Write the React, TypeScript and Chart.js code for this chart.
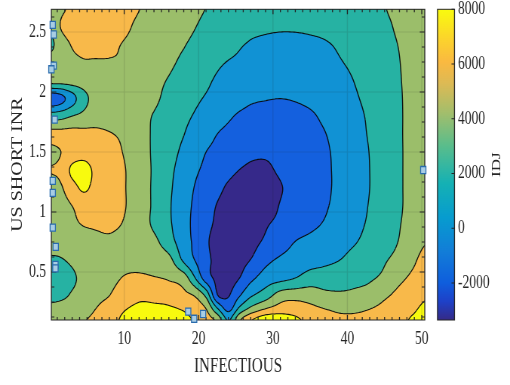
import React, { useEffect, useRef } from 'react';
import { Chart, registerables } from 'chart.js';

Chart.register(...registerables);

// page is 510 px wide; the chart is drawn on a wider canvas and squeezed horizontally
const CANVAS_W = 676;
const CANVAS_H = 385;
const SX = 510 / CANVAS_W;

// grid of the IDJ surface (x = INFECTIOUS, y = US SHORT INR)
const xValues = [0.2, 1.5, 3, 4.5, 6, 8, 10, 12, 14, 16, 18, 19.5, 21, 22.5, 24, 25.5, 27, 29, 31, 33, 35, 37, 39, 41, 43, 45, 47, 49, 50.4];
const yValues = [0.1, 0.2, 0.3, 0.45, 0.6, 0.75, 0.9, 1.05, 1.2, 1.35, 1.5, 1.65, 1.8, 1.95, 2.1, 2.25, 2.4, 2.55, 2.7];

const idjAtY010 = [4800, 4800, 4900, 5800, 6400, 7200, 8400, 9000, 9100, 9000, 8700, 7800, 6800, 5500, 1800, 5700, 7800, 9300, 9200, 8400, 7400, 7000, 6500, 6500, 6800, 7300, 7600, 8300, 9000];
const idjAtY020 = [4300, 4500, 4700, 5100, 5900, 6700, 7800, 8300, 8300, 8200, 7700, 6700, 5900, 2000, -800, 2300, 4300, 5800, 6700, 6800, 6400, 5900, 5500, 5500, 5900, 6500, 7000, 7700, 8400];
const idjAtY030 = [3600, 3700, 4200, 4800, 5500, 6000, 7000, 7600, 7500, 7200, 6500, 5900, 3600, -1800, -2100, -100, 1800, 3100, 5000, 5300, 5100, 4500, 4300, 4400, 4700, 5700, 6500, 7000, 7700];
const idjAtY045 = [3000, 3200, 3700, 4500, 5200, 5500, 6100, 6250, 6100, 5800, 5000, 2100, -1000, -2400, -2700, -2000, -500, 900, 1400, 2000, 2900, 3000, 3200, 3500, 3800, 4400, 5600, 6400, 7000];
const idjAtY060 = [3800, 3900, 4300, 5000, 5200, 5300, 5600, 5600, 5200, 4600, 1660, -30, -1470, -2500, -2800, -2500, -1950, -500, 280, 710, 1140, 1575, 2000, 2620, 3230, 3850, 4600, 5800, 6400];
const idjAtY075 = [4500, 4600, 4800, 5200, 5600, 5800, 5600, 5300, 4500, 2840, 940, -390, -1730, -2600, -3100, -3100, -2600, -1680, -820, 40, 490, 960, 1430, 1900, 2590, 3350, 4100, 5300, 5900];
const idjAtY090 = [4800, 5000, 5600, 6100, 6200, 6200, 5900, 5000, 3660, 2300, 720, -445, -1500, -2300, -2900, -3300, -3200, -2200, -1590, -1010, -430, 170, 850, 1525, 2250, 3080, 3920, 4800, 5300];
const idjAtY105 = [5000, 5300, 6000, 6800, 6800, 6500, 6100, 5000, 3700, 2220, 740, -300, -1210, -2100, -2700, -3200, -3300, -2800, -1900, -1330, -750, -170, 540, 1320, 2100, 2950, 3790, 4700, 5100];
const idjAtY120 = [5200, 5800, 7200, 8300, 7500, 6800, 6100, 5000, 3700, 2330, 930, -80, -800, -1520, -2300, -2900, -3200, -2800, -2100, -1480, -880, -290, 410, 1210, 2000, 2890, 3780, 4700, 5100];
const idjAtY135 = [6100, 6500, 8400, 8800, 7700, 6900, 6100, 5000, 3750, 2470, 1220, 300, -370, -920, -1470, -2020, -2300, -2250, -1770, -1270, -760, -260, 390, 1190, 2000, 2890, 3780, 4700, 5100];
const idjAtY150 = [5400, 6000, 6800, 7200, 6900, 6600, 5900, 5000, 3700, 2720, 1620, 810, 0, -450, -900, -1350, -1700, -1800, -1600, -1200, -750, -250, 510, 1280, 2040, 2900, 3780, 4700, 5100];
const idjAtY165 = [6600, 6600, 6700, 6600, 6400, 6100, 5700, 5000, 3700, 2950, 2050, 1360, 680, 0, -400, -750, -1050, -1200, -1150, -900, -550, -50, 740, 1440, 2150, 2950, 3800, 4700, 5100];
const idjAtY180 = [3000, 3300, 4000, 4500, 5200, 5300, 5100, 4500, 3900, 3160, 2410, 1860, 1320, 790, 250, -220, -500, -680, -700, -550, -250, 360, 970, 1580, 2240, 3020, 3800, 4700, 5100];
const idjAtY195 = [-1200, -600, 1200, 3300, 4600, 5200, 5100, 4700, 4300, 3520, 2830, 2310, 1880, 1600, 1100, 650, 250, 100, 20, 140, 430, 900, 1370, 1830, 2450, 3140, 3830, 4700, 5100];
const idjAtY210 = [5000, 5000, 5100, 5100, 5300, 5300, 5100, 4800, 4400, 3900, 3220, 2740, 2260, 1800, 1230, 950, 700, 580, 560, 650, 750, 1100, 1550, 2060, 2680, 3290, 3900, 4700, 5100];
const idjAtY225 = [4800, 5300, 5700, 5900, 5900, 5900, 5800, 5200, 4700, 4300, 3690, 3230, 2770, 2310, 1930, 1710, 1500, 1200, 1080, 1290, 1500, 1715, 1925, 2350, 2890, 3430, 3970, 4700, 5100];
const idjAtY240 = [3600, 5300, 6100, 6300, 6400, 6300, 5900, 5400, 5000, 4600, 4100, 3710, 3320, 2920, 2530, 2130, 1900, 1750, 1650, 1650, 1750, 1900, 2190, 2660, 3130, 3600, 4070, 4700, 5100];
const idjAtY255 = [4600, 6100, 6600, 6900, 7000, 6900, 6400, 5600, 5100, 4800, 4400, 4050, 3700, 3350, 2850, 2550, 2300, 2200, 2150, 2170, 2250, 2400, 2700, 3150, 3450, 3750, 4250, 4800, 5150];
const idjAtY270 = [4700, 5700, 6300, 6900, 7200, 7200, 6800, 6050, 5400, 5000, 4600, 4250, 3980, 3650, 3300, 3000, 2750, 2600, 2500, 2500, 2600, 2750, 3000, 3250, 3550, 3950, 4400, 4900, 5200];

const zRows = [
  idjAtY010, idjAtY020, idjAtY030, idjAtY045, idjAtY060, idjAtY075, idjAtY090, idjAtY105, idjAtY120, idjAtY135,
  idjAtY150, idjAtY165, idjAtY180, idjAtY195, idjAtY210, idjAtY225, idjAtY240, idjAtY255, idjAtY270,
];

const contourLevels = [-2000, 0, 2000, 4000, 6000, 8000];
const bandColors = ['#36298a', '#1460de', '#1192d4', '#26b2a3', '#9bbe6a', '#f8b94a', '#f8fa0e'];

// sampled points
const pointsX = [0.39, 0.52, 0.52, 0.21, 0.66, 0.39, 0.39, 0.39, 0.79, 0.75, 0.75, 18.6, 19.4, 20.6, 50.2];
const pointsY = [2.56, 2.48, 2.22, 2.19, 1.77, 1.26, 1.16, 0.87, 0.71, 0.56, 0.53, 0.17, 0.11, 0.15, 1.35];

const xTicks = [10, 20, 30, 40, 50];
const yTicks = [0.5, 1, 1.5, 2, 2.5];
const colorbarTicks = [-2000, 0, 2000, 4000, 6000, 8000];
const colorbarMin = -3350;
const colorbarMax = 8000;

const parulaStops: [number, string][] = [
  [0.0, '#352a87'], [0.06, '#1e41c8'], [0.12, '#0f5edd'], [0.22, '#127dd8'], [0.33, '#079ccf'],
  [0.44, '#15b1b4'], [0.56, '#59bd8c'], [0.67, '#a5be6b'], [0.76, '#dcba55'], [0.83, '#fab941'],
  [0.9, '#fcd22d'], [1.0, '#f9fb0e'],
];

const TEXT = '#262626';
const FONT = "'Liberation Serif', 'Times New Roman', Times, serif";
const PLOT_TOP = 9.3;

function fracIndex(arr: number[], v: number) {
  const n = arr.length;
  if (v <= arr[0]) return 0;
  if (v >= arr[n - 1]) return n - 1;
  let i = 0;
  while (i < n - 2 && arr[i + 1] < v) i++;
  return i + (v - arr[i]) / (arr[i + 1] - arr[i]);
}

function zAt(r: number, c: number) {
  const rr = Math.max(0, Math.min(zRows.length - 1, r));
  const cc = Math.max(0, Math.min(xValues.length - 1, c));
  return zRows[rr][cc];
}

function cr(p0: number, p1: number, p2: number, p3: number, t: number) {
  return 0.5 * (2 * p1 + (-p0 + p2) * t + (2 * p0 - 5 * p1 + 4 * p2 - p3) * t * t + (-p0 + 3 * p1 - 3 * p2 + p3) * t * t * t);
}

function sampleField(ri: number, ci: number) {
  const r = Math.min(Math.floor(ri), zRows.length - 2);
  const c = Math.min(Math.floor(ci), xValues.length - 2);
  const tr = ri - r;
  const tc = ci - c;
  const col: number[] = [];
  for (let k = -1; k <= 2; k++) {
    const rr = r + k;
    col.push(cr(zAt(rr, c - 1), zAt(rr, c), zAt(rr, c + 1), zAt(rr, c + 2), tc));
  }
  return cr(col[0], col[1], col[2], col[3], tr);
}

function hexToRgb(h: string) {
  const n = parseInt(h.slice(1), 16);
  return [(n >> 16) & 255, (n >> 8) & 255, n & 255];
}

const fieldPlugin = {
  id: 'fieldPlugin',
  beforeDatasetsDraw(chart: any) {
    const ctx = chart.ctx as CanvasRenderingContext2D;
    const a = chart.chartArea;
    const xS = chart.scales.x;
    const yS = chart.scales.y;
    const L = Math.round(a.left), T = Math.round(a.top), R = Math.round(a.right), B = Math.round(a.bottom);
    const w = R - L, h = B - T;

    // filled bands
    const img = ctx.createImageData(w, h);
    const ci = new Float64Array(w);
    const ri = new Float64Array(h);
    for (let i = 0; i < w; i++) ci[i] = fracIndex(xValues, xS.getValueForPixel(L + i + 0.5));
    for (let j = 0; j < h; j++) ri[j] = fracIndex(yValues, yS.getValueForPixel(T + j + 0.5));
    const rgb = bandColors.map(hexToRgb);
    for (let j = 0; j < h; j++) {
      for (let i = 0; i < w; i++) {
        const v = sampleField(ri[j], ci[i]);
        let b = 0;
        while (b < contourLevels.length && v >= contourLevels[b]) b++;
        const c = rgb[b];
        const k = (j * w + i) * 4;
        img.data[k] = c[0];
        img.data[k + 1] = c[1];
        img.data[k + 2] = c[2];
        img.data[k + 3] = 255;
      }
    }
    ctx.putImageData(img, L, T);

    ctx.save();
    ctx.beginPath();
    ctx.rect(a.left, a.top, a.right - a.left, a.bottom - a.top);
    ctx.clip();
    ctx.scale(1 / SX, 1);

    // grid
    ctx.strokeStyle = 'rgba(30,30,30,0.13)';
    ctx.lineWidth = 1;
    ctx.beginPath();
    for (const v of xTicks) {
      const px = xS.getPixelForValue(v) * SX;
      ctx.moveTo(px, a.top);
      ctx.lineTo(px, a.bottom);
    }
    for (const v of yTicks) {
      const py = yS.getPixelForValue(v);
      ctx.moveTo(a.left * SX, py);
      ctx.lineTo(a.right * SX, py);
    }
    ctx.stroke();

    // contour lines (marching squares)
    const step = 2;
    const gx: number[] = [];
    const gy: number[] = [];
    for (let p = L; p < R; p += step) gx.push(p);
    gx.push(R);
    for (let p = T; p < B; p += step) gy.push(p);
    gy.push(B);
    const nx = gx.length, ny = gy.length;
    const gci = gx.map((p) => fracIndex(xValues, xS.getValueForPixel(p)));
    const gri = gy.map((p) => fracIndex(yValues, yS.getValueForPixel(p)));
    const vals = new Float64Array(nx * ny);
    for (let j = 0; j < ny; j++) for (let i = 0; i < nx; i++) vals[j * nx + i] = sampleField(gri[j], gci[i]);

    ctx.strokeStyle = 'rgba(10,10,10,0.95)';
    ctx.lineWidth = 1.05;
    ctx.lineJoin = 'round';
    ctx.beginPath();
    for (const lvl of contourLevels) {
      for (let j = 0; j < ny - 1; j++) {
        for (let i = 0; i < nx - 1; i++) {
          const va = vals[j * nx + i];
          const vb = vals[j * nx + i + 1];
          const vc = vals[(j + 1) * nx + i + 1];
          const vd = vals[(j + 1) * nx + i];
          const x0 = gx[i], x1 = gx[i + 1], y0 = gy[j], y1 = gy[j + 1];
          const pts: [number, number][] = [];
          const cross = (p: number, q: number) => (p >= lvl) !== (q >= lvl);
          if (cross(va, vb)) pts.push([x0 + ((lvl - va) / (vb - va)) * (x1 - x0), y0]);
          if (cross(vb, vc)) pts.push([x1, y0 + ((lvl - vb) / (vc - vb)) * (y1 - y0)]);
          if (cross(vd, vc)) pts.push([x0 + ((lvl - vd) / (vc - vd)) * (x1 - x0), y1]);
          if (cross(va, vd)) pts.push([x0, y0 + ((lvl - va) / (vd - va)) * (y1 - y0)]);
          if (pts.length === 2) {
            ctx.moveTo(pts[0][0] * SX, pts[0][1]);
            ctx.lineTo(pts[1][0] * SX, pts[1][1]);
          } else if (pts.length === 4) {
            const center = (va + vb + vc + vd) / 4;
            if ((va >= lvl) === (center >= lvl)) {
              ctx.moveTo(pts[0][0] * SX, pts[0][1]); ctx.lineTo(pts[1][0] * SX, pts[1][1]);
              ctx.moveTo(pts[2][0] * SX, pts[2][1]); ctx.lineTo(pts[3][0] * SX, pts[3][1]);
            } else {
              ctx.moveTo(pts[0][0] * SX, pts[0][1]); ctx.lineTo(pts[3][0] * SX, pts[3][1]);
              ctx.moveTo(pts[1][0] * SX, pts[1][1]); ctx.lineTo(pts[2][0] * SX, pts[2][1]);
            }
          }
        }
      }
    }
    ctx.stroke();
    ctx.restore();

    // axes box and inward ticks
    ctx.save();
    ctx.scale(1 / SX, 1);
    ctx.strokeStyle = TEXT;
    ctx.lineWidth = 1;
    const lx = a.left * SX, rx = a.right * SX;
    ctx.strokeRect(lx, a.top, rx - lx, a.bottom - a.top);
    ctx.beginPath();
    for (let v = 1; v <= 50; v++) {
      const px = xS.getPixelForValue(v) * SX;
      const len = v % 10 === 0 ? 5 : 3;
      ctx.moveTo(px, a.bottom); ctx.lineTo(px, a.bottom - len);
      ctx.moveTo(px, a.top); ctx.lineTo(px, a.top + len);
    }
    for (let k = 1; k <= 21; k++) {
      const v = k * 0.125;
      if (v < yS.min || v > yS.max) continue;
      const py = yS.getPixelForValue(v);
      const len = k % 4 === 0 ? 5 : 3;
      ctx.moveTo(lx, py); ctx.lineTo(lx + len, py);
      ctx.moveTo(rx, py); ctx.lineTo(rx - len, py);
    }
    ctx.stroke();
    ctx.restore();
  },
  afterDraw(chart: any) {
    const ctx = chart.ctx as CanvasRenderingContext2D;
    const cb = chart.scales.y2;
    const a = chart.chartArea;
    const left = 437.5 / SX;
    const right = 454.5 / SX;
    const top = cb.getPixelForValue(colorbarMax);
    const bottom = cb.getPixelForValue(colorbarMin);
    const grad = ctx.createLinearGradient(0, bottom, 0, top);
    for (const [t, c] of parulaStops) grad.addColorStop(t, c);
    ctx.save();
    ctx.fillStyle = grad;
    ctx.fillRect(left, top, right - left, bottom - top);
    ctx.scale(1 / SX, 1);
    ctx.strokeStyle = TEXT;
    ctx.lineWidth = 1;
    ctx.strokeRect(left * SX, top, (right - left) * SX, bottom - top);
    ctx.beginPath();
    for (const v of colorbarTicks) {
      const py = cb.getPixelForValue(v);
      ctx.moveTo(right * SX, py); ctx.lineTo(right * SX - 3, py);
    }
    ctx.stroke();
    ctx.restore();

    // colorbar label
    ctx.save();
    ctx.translate(497 / SX, (a.top + a.bottom) / 2);
    ctx.rotate(-Math.PI / 2);
    ctx.font = `17px ${FONT}`;
    ctx.fillStyle = TEXT;
    ctx.textAlign = 'center';
    ctx.textBaseline = 'middle';
    ctx.fillText('IDJ', 0, 0);
    ctx.restore();
  },
};

const fixVerticalPadding = (s: any) => {
  s.paddingTop = PLOT_TOP;
  s.paddingBottom = 0;
};

export default function App() {
  const canvasRef = useRef<HTMLCanvasElement | null>(null);

  useEffect(() => {
    if (!canvasRef.current) return;
    Chart.defaults.font.family = FONT;
    const chart = new Chart(canvasRef.current, {
      type: 'scatter',
      data: {
        datasets: [
          {
            data: pointsX.map((x, i) => ({ x, y: pointsY[i] })),
            pointStyle: 'rect',
            pointRadius: 5,
            backgroundColor: '#a8cde4',
            borderColor: '#2a6cae',
            borderWidth: 1.3,
            clip: false,
          } as any,
        ],
      },
      options: {
        responsive: false,
        animation: false,
        devicePixelRatio: 1,
        layout: { padding: 0 },
        plugins: { legend: { display: false }, tooltip: { enabled: false } },
        scales: {
          x: {
            type: 'linear',
            position: 'bottom',
            min: 0.2,
            max: 50.4,
            grid: { display: false, drawTicks: false },
            border: { display: false },
            afterBuildTicks: (s: any) => { s.ticks = xTicks.map((v) => ({ value: v })); },
            afterFit: (s: any) => { s.height = 65; s.paddingLeft = 0; s.paddingRight = 0; },
            ticks: { font: { size: 18 }, color: TEXT, padding: 8, maxRotation: 0, autoSkip: false, callback: (v: any) => String(v) },
            title: { display: true, text: 'INFECTIOUS', font: { size: 20 }, color: TEXT, padding: { top: 0, bottom: 6 } },
          },
          y: {
            type: 'linear',
            position: 'left',
            min: 0.1,
            max: 2.69,
            grid: { display: false, drawTicks: false },
            border: { display: false },
            afterBuildTicks: (s: any) => { s.ticks = yTicks.map((v) => ({ value: v })); },
            afterFit: (s: any) => { s.width = 68; fixVerticalPadding(s); },
            ticks: { font: { size: 18 }, color: TEXT, padding: 7, autoSkip: false, callback: (v: any) => String(v) },
            title: { display: true, text: 'US SHORT INR', font: { size: 20 }, color: TEXT, padding: { top: 12, bottom: 0 } },
          },
          y2: {
            type: 'linear',
            position: 'right',
            min: colorbarMin,
            max: colorbarMax,
            grid: { display: false, drawTicks: false },
            border: { display: false },
            afterBuildTicks: (s: any) => { s.ticks = colorbarTicks.map((v) => ({ value: v })); },
            afterFit: (s: any) => { s.width = CANVAS_W - 563; fixVerticalPadding(s); },
            ticks: { font: { size: 18 }, color: TEXT, padding: 44, autoSkip: false, callback: (v: any) => String(v) },
          },
        },
      } as any,
      plugins: [fieldPlugin],
    });
    return () => chart.destroy();
  }, []);

  return (
    <div style={{ position: 'fixed', left: 0, top: 0, width: 510, height: 385, overflow: 'hidden', background: '#fff' }}>
      <div style={{ width: CANVAS_W, height: CANVAS_H, transform: `scaleX(${SX})`, transformOrigin: '0 0' }}>
        <canvas ref={canvasRef} width={CANVAS_W} height={CANVAS_H} style={{ display: 'block', width: CANVAS_W, height: CANVAS_H }} />
      </div>
    </div>
  );
}
